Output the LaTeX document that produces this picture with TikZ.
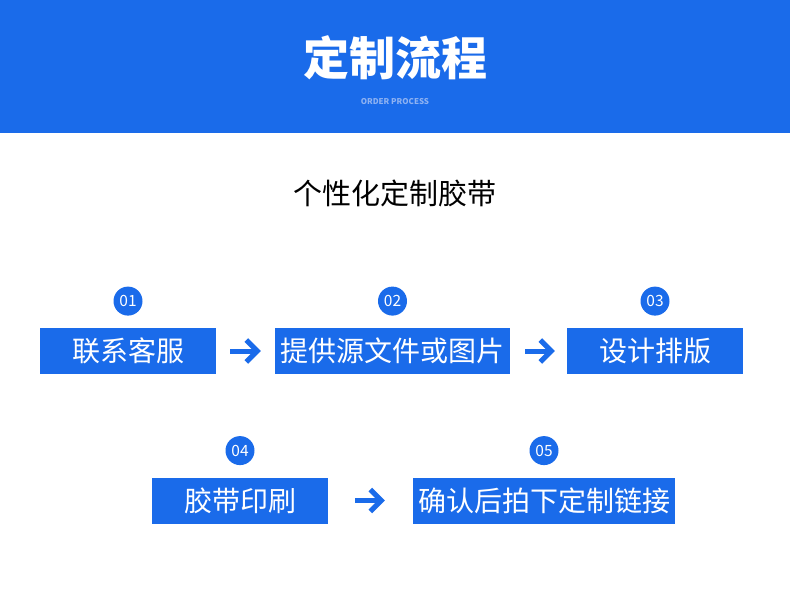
\documentclass[tikz,border=0pt]{standalone}
\usepackage{fontspec}
\usepackage{xcolor}
\usepackage{tikz}
\usetikzlibrary{positioning,arrows.meta}
\newfontfamily\cjk{Noto Sans CJK SC}
\definecolor{mainblue}{HTML}{1A6BEA}
\definecolor{subblue}{HTML}{8EB2F2}

\begin{document}
\begin{tikzpicture}[
  x=1pt,y=-1pt,
  font=\cjk,
  node distance=12pt,
  stepbox/.style={fill=mainblue,text=white,minimum height=46pt,inner sep=0pt,font=\cjk\fontsize{28}{30}\selectfont},
  num/.style={circle,fill=mainblue,text=white,minimum size=29pt,inner sep=0pt,font=\cjk\fontsize{15.5}{16}\selectfont},
  go/.style={draw=mainblue,line width=5pt,-{Straight Barb[length=11pt,width=22pt]}}]
\useasboundingbox[fill=white] (0,0) rectangle (790,594);
% header
\fill[mainblue] (0,0) rectangle (790,133);
\node[text=white,font=\cjk\bfseries\fontsize{46}{50}\selectfont] (title) at (395,58) {定制流程};
\node[text=subblue,font=\cjk\bfseries\fontsize{8}{9}\selectfont] (sub) at (395,102) {ORDER PROCESS};
\node[font=\cjk\fontsize{29}{32}\selectfont] (head) at (395,193) {个性化定制胶带};
% steps
\node[stepbox,minimum width=176pt] (s1) at (128,351) {联系客服};
\node[stepbox,minimum width=235pt] (s2) at (392.5,351) {提供源文件或图片};
\node[stepbox,minimum width=176pt] (s3) at (655,351) {设计排版};
\node[stepbox,minimum width=176pt] (s4) at (240,500.5) {胶带印刷};
\node[stepbox,minimum width=262pt] (s5) at (544,500.5) {确认后拍下定制链接};
\node[num,above=of s1] (n1) {01};
\node[num,above=of s2] (n2) {02};
\node[num,above=of s3] (n3) {03};
\node[num,above=of s4] (n4) {04};
\node[num,above=of s5] (n5) {05};
\draw[go,shorten <=14pt,shorten >=14pt] (s1) -- (s2);
\draw[go,shorten <=15pt,shorten >=12pt] (s2) -- (s3);
\draw[go,shorten <=27pt,shorten >=28pt] (s4) -- (s5);
\end{tikzpicture}
\end{document}
